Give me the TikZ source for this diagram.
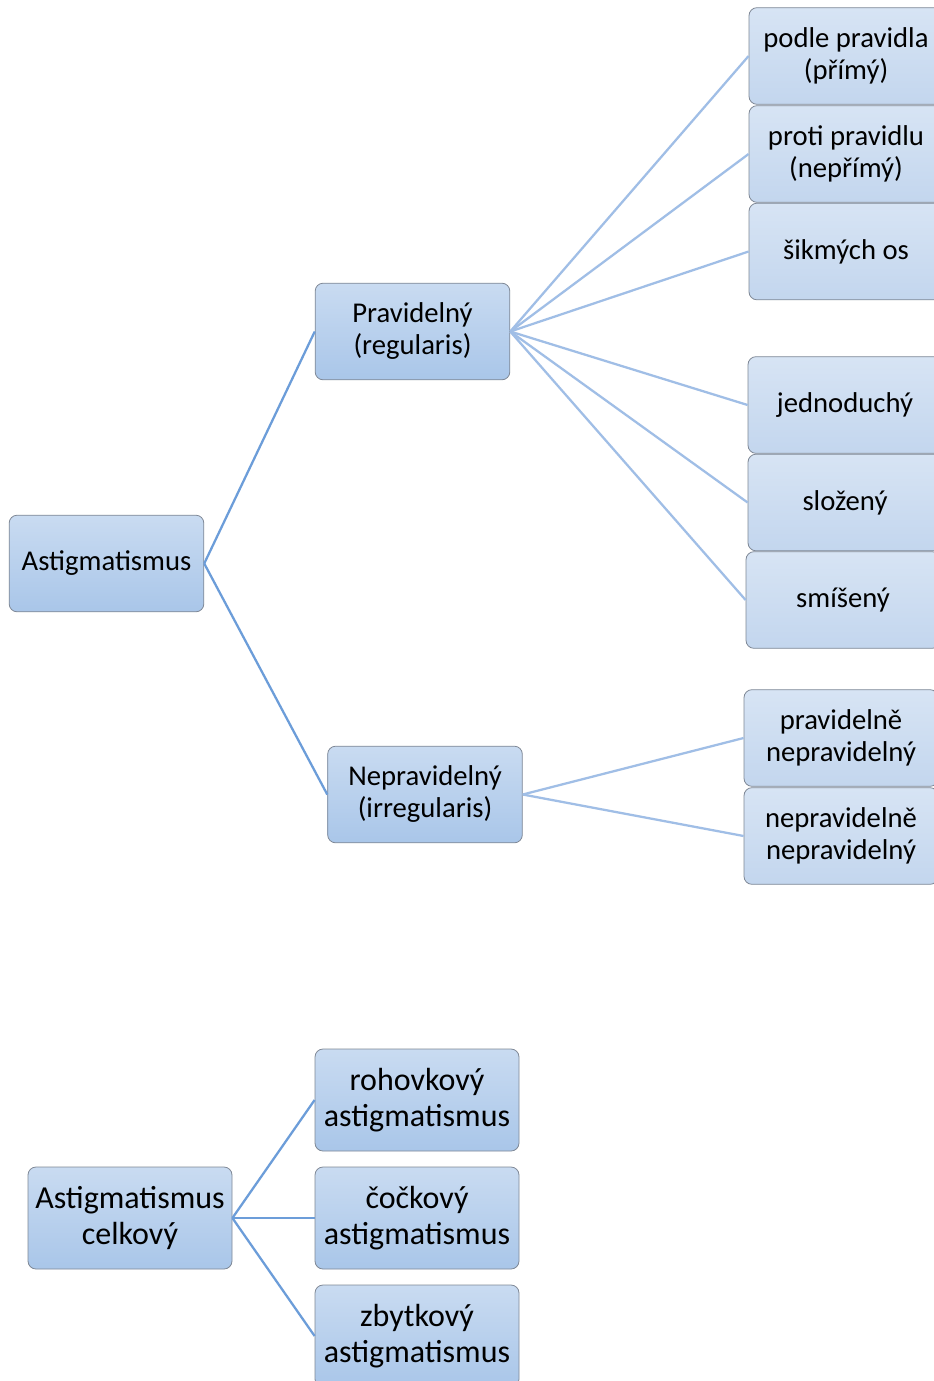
\documentclass[tikz,border=0pt]{standalone}
\usepackage{fontspec}
\setmainfont{Carlito}
\usepackage{tikz}
\usetikzlibrary{positioning}

\definecolor{boxtop}{HTML}{C9DBF1}
\definecolor{boxbot}{HTML}{A9C6E9}
\definecolor{leaftop}{HTML}{D7E4F4}
\definecolor{leafbot}{HTML}{C3D6EE}
\definecolor{boxline}{HTML}{7F8896}
\definecolor{linkone}{HTML}{6C9DD9}
\definecolor{linktwo}{HTML}{A0BEE6}

\begin{document}
\begin{tikzpicture}[
        x=0.75pt, y=-0.75pt,
        box/.style={draw=boxline, line width=0.6pt, rounded corners=6pt, align=center,
            top color=boxtop, bottom color=boxbot,
            minimum width=146pt, minimum height=72.5pt, inner sep=2pt,
            font=\fontsize{21.5}{24}\selectfont},
        leaf/.style={box, top color=leaftop, bottom color=leafbot, minimum width=145.5pt},
        bigbox/.style={box, minimum width=153pt, minimum height=76.5pt,
            font=\fontsize{24}{26.5}\selectfont},
        link/.style={draw=linkone, line width=1.7pt},
        sublink/.style={draw=linktwo, line width=1.7pt},
    ]
        \clip (0,0) rectangle (934,1381);
        \fill[white] (0,0) rectangle (934,1381);
        % first tree
        \node[box] (astig) at (106.5,563.5) {Astigmatismus};
        \node[box] (prav) at (412.5,331.5) {Pravidelný\\(regularis)};
        \node[box] (neprav) at (425,794.5) {Nepravidelný\\(irregularis)};
        \node[leaf] (podle) at (846,56) {podle pravidla\\(přímý)};
        \node[leaf] (proti) at (846,154) {proti pravidlu\\(nepřímý)};
        \node[leaf] (sikm) at (846,251.5) {šikmých os};
        \node[leaf] (jedn) at (845,405) {jednoduchý};
        \node[leaf] (sloz) at (845,502.5) {složený};
        \node[leaf] (smis) at (843,600) {smíšený};
        \node[leaf] (pnep) at (841,738) {pravidelně\\nepravidelný};
        \node[leaf] (nnep) at (841,836) {nepravidelně\\nepravidelný};
        \draw[link] (astig.east) -- (prav.west);
        \draw[link] (astig.east) -- (neprav.west);
        \foreach \n in {podle,proti,sikm,jedn,sloz,smis}
            \draw[sublink] (prav.east) -- (\n.west);
        \foreach \n in {pnep,nnep}
            \draw[sublink] (neprav.east) -- (\n.west);
        % second tree
        \node[bigbox] (celk) at (130,1218) {Astigmatismus\\celkový};
        \node[bigbox] (rohov) at (417,1100) {rohovkový\\astigmatismus};
        \node[bigbox] (cock) at (417,1218) {čočkový\\astigmatismus};
        \node[bigbox] (zbyt) at (417,1336) {zbytkový\\astigmatismus};
        \foreach \n in {rohov,cock,zbyt}
            \draw[link] (celk.east) -- (\n.west);
    \end{tikzpicture}
\end{document}
